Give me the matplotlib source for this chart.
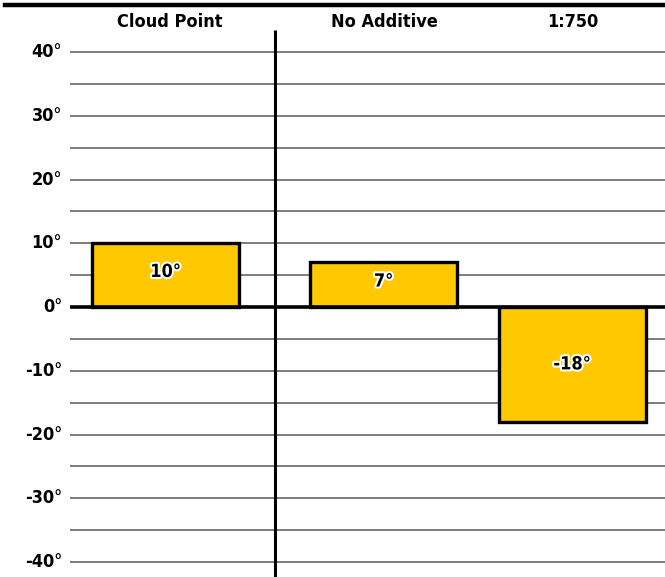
import matplotlib
matplotlib.use("Agg")
import matplotlib.pyplot as plt
import matplotlib.patheffects as pe
import numpy as np

categories = ["Cloud Point", "No Additive", "1:750"]
values = [10, 7, -18]
bar_labels = ["10°", "7°", "-18°"]
tick_values = [40, 30, 20, 10, 0, -10, -20, -30, -40]
tick_labels = ["40°", "30°", "20°", "10°", "0°", "-10°", "-20°", "-30°", "-40°"]

# layout (pixel-like x units inside the axes)
centers = [165.5, 383.5, 572.0]
bar_w = 147
header_x = [170, 384, 573]
y_top, y_bot = 48.16, -42.35

plt.rcParams['font.family'] = ['DejaVu Sans']
font_kw = dict(fontweight="bold", fontstretch="condensed", color="black")

fig = plt.figure(figsize=(6.65, 5.77), dpi=100)
ax = fig.add_axes([70 / 665, 0, 595 / 665, 1])
ax.set_xlim(70, 665)
ax.set_ylim(y_bot, y_top)
ax.axis("off")

# grid lines every 5 degrees
for v in np.arange(-40, 41, 5):
    if v == 0:
        continue
    ax.plot([70, 665], [v, v], color="#7c7c7c", lw=1.4, zorder=1,
            solid_capstyle="butt")

# divider after the cloud point column
ax.plot([275, 275], [43.45, y_bot], color="black", lw=2.2, zorder=4,
        solid_capstyle="butt")

ax.bar(centers, values, width=bar_w, color="#ffc800", edgecolor="black",
       linewidth=2.4, zorder=3)

# zero line
ax.plot([70, 665], [0, 0], color="black", lw=2.6, zorder=5,
        solid_capstyle="butt")

for c, v, lab in zip(centers, values, bar_labels):
    ax.text(c, v / 2 + (0.5 if v > 0 else 0), lab, ha="center", va="center",
            fontsize=13, zorder=6,
            path_effects=[pe.withStroke(linewidth=3, foreground="white")],
            **font_kw)

for hx, name in zip(header_x, categories):
    ax.text(hx, 44.7, name, ha="center", va="center", fontsize=13, **font_kw)

# y tick labels
for v, lab in zip(tick_values, tick_labels):
    fig.text(62 / 665, (v - y_bot) / (y_top - y_bot), lab, ha="right",
             va="center", fontsize=13, **font_kw)

# thick top rule
fig.add_artist(plt.Line2D([5 / 665, 1], [1 - 5 / 577, 1 - 5 / 577],
                          color="black", lw=3.2, transform=fig.transFigure))

fig.savefig("out.png", dpi=100)
